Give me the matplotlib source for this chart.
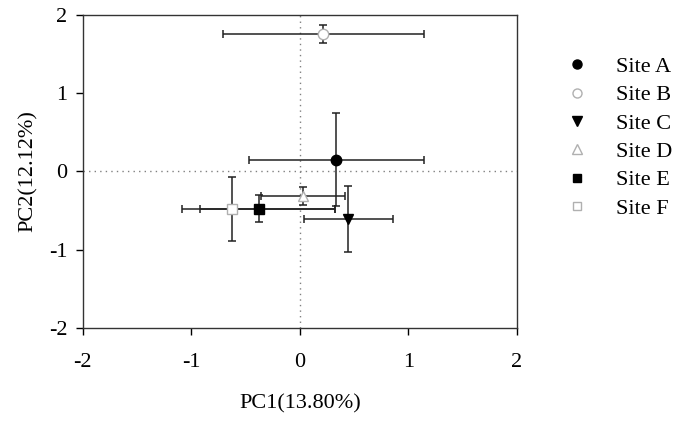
import numpy as np
import matplotlib
matplotlib.use("Agg")
import matplotlib.pyplot as plt
from matplotlib.lines import Line2D

plt.rcParams["font.family"] = ["Liberation Serif", "DejaVu Serif"]
plt.rcParams["axes.unicode_minus"] = False

SITES = ["Site A", "Site B", "Site C", "Site D", "Site E", "Site F"]
PC1 = [0.337, 0.215, 0.448, 0.031, -0.377, -0.629]
PC2 = [0.152, 1.760, -0.610, -0.316, -0.477, -0.477]
# x errors (left, right)
PC1_ERR_LO = [0.805, 0.925, 0.408, 0.385, 0.543, 0.455]
PC1_ERR_HI = [0.805, 0.925, 0.408, 0.385, 0.702, 0.954]
PC2_ERR = [0.600, 0.115, 0.420, 0.112, 0.170, 0.410]

MARKERS = ["o", "o", "v", "^", "s", "s"]
SIZES = [7.5, 7.5, 7.5, 7.5, 6.5, 6.5]
FACES = ["black", "white", "black", "white", "black", "white"]
EDGES = ["black", "#b0b0b0", "black", "#b0b0b0", "black", "#b0b0b0"]

fig = plt.figure(figsize=(6.83, 4.23), dpi=100)
ax = fig.add_axes([0.121, 0.225, 0.636, 0.7395])

ax.axhline(0, color="#808080", lw=1.0, ls=(0, (1, 3)), zorder=1)
ax.axvline(0, color="#808080", lw=1.0, ls=(0, (1, 3)), zorder=1)

handles = []
for i, name in enumerate(SITES):
    ax.errorbar(PC1[i], PC2[i],
                xerr=[[PC1_ERR_LO[i]], [PC1_ERR_HI[i]]],
                yerr=[[PC2_ERR[i]], [PC2_ERR[i]]],
                fmt="none", ecolor="#222222", elinewidth=1.1,
                capsize=2.7, capthick=1.1, zorder=2)
for i, name in enumerate(SITES):
    ax.plot(PC1[i], PC2[i], marker=MARKERS[i], ms=SIZES[i], mfc=FACES[i],
            mec=EDGES[i], mew=1.0, ls="none", zorder=3)
    handles.append(Line2D([], [], marker=MARKERS[i], ms=SIZES[i] - 1,
                          mfc=FACES[i], mec=EDGES[i], mew=1.0, ls="none",
                          label=name))

ax.set_xlim(-2, 2)
ax.set_ylim(-2, 2)
ax.set_xticks([-2, -1, 0, 1, 2])
ax.set_yticks([-2, -1, 0, 1, 2])
ax.tick_params(direction="out", length=5, width=1, labelsize=16, pad=6,
               top=False, right=False)
ax.tick_params(axis="x", pad=13)
for sp in ax.spines.values():
    sp.set_linewidth(1.0)
    sp.set_color("#333333")

ax.set_xlabel("PC1(13.80%)", fontsize=16, labelpad=16)
ax.set_ylabel("PC2(12.12%)", fontsize=16, labelpad=8)

fig.legend(handles=handles, loc="upper left", bbox_to_anchor=(0.8122, 0.8925),
           frameon=False, fontsize=16, handlelength=1.0, handletextpad=1.26,
           labelspacing=0.35, borderpad=0)

fig.savefig("out.png", dpi=100)
